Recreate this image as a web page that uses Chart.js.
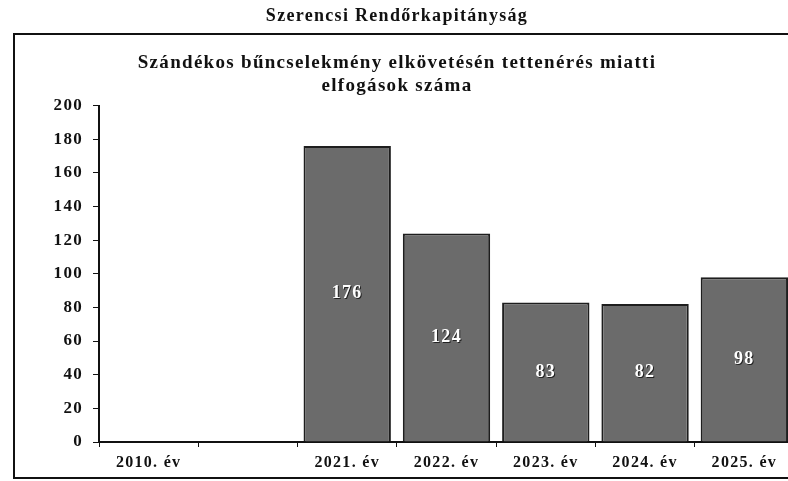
<!DOCTYPE html>
<html>
<head>
    <title>Szerencsi Rendőrkapitányság</title>
    <style>
        body { margin: 0; background: #fff; overflow: hidden; }
        canvas { display: block; }
    </style>
    <script src="https://cdn.jsdelivr.net/npm/chart.js"></script>
</head>
<body>
<canvas id="arrestChart" width="800" height="481"></canvas>
<script>
const categories = ['2010. év', '', '2021. év', '2022. év', '2023. év', '2024. év', '2025. év'];
const arrests = [0, null, 176, 124, 83, 82, 98];
const yTicks = { min: 0, max: 200, step: 20 };
const mainTitle = 'Szerencsi Rendőrkapitányság';
const chartTitle = ['Szándékos bűncselekmény elkövetésén tettenérés miatti', 'elfogások száma'];

const serif = '"Liberation Serif", "Times New Roman", serif';
const spacing = '1.3px';

// frame around the chart; the scan has wide letter spacing, so set it on the context
const framePlugin = {
    id: 'frame',
    beforeUpdate(chart) {
        chart.ctx.letterSpacing = spacing;
    },
    beforeDraw(chart) {
        const ctx = chart.ctx;
        ctx.letterSpacing = spacing;
        ctx.save();
        ctx.fillStyle = '#fff';
        ctx.fillRect(0, 0, chart.width, chart.height);
        ctx.strokeStyle = '#111';
        ctx.lineWidth = 2;
        ctx.beginPath();
        ctx.moveTo(chart.width, 34);
        ctx.lineTo(14, 34);
        ctx.lineTo(14, 478);
        ctx.lineTo(chart.width, 478);
        ctx.stroke();
        ctx.restore();
    }
};

// white value labels in the middle of each bar
const valueLabels = {
    id: 'valueLabels',
    afterDatasetsDraw(chart) {
        const ctx = chart.ctx;
        const meta = chart.getDatasetMeta(0);
        ctx.save();
        ctx.font = 'bold 18px ' + serif;
        ctx.textAlign = 'center';
        ctx.textBaseline = 'middle';
        meta.data.forEach((bar, i) => {
            const v = arrests[i];
            if (!v) return;
            const y = (bar.y + bar.base) / 2;
            ctx.fillStyle = '#222';
            ctx.fillText(String(v), bar.x + 1, y + 1);
            ctx.fillStyle = '#fff';
            ctx.fillText(String(v), bar.x, y);
        });
        ctx.restore();
    }
};

const ctx = document.getElementById('arrestChart').getContext('2d');
new Chart(ctx, {
    type: 'bar',
    data: {
        labels: categories,
        datasets: [{
            data: arrests,
            backgroundColor: '#6b6b6b',
            borderColor: '#1e1e1e',
            borderWidth: 2,
            borderSkipped: 'bottom',
            barPercentage: 0.88,
            categoryPercentage: 1.0
        }]
    },
    options: {
        responsive: false,
        animation: false,
        layout: { padding: { top: 0, right: 6, bottom: 0, left: 0 } },
        plugins: {
            legend: { display: false },
            tooltip: { enabled: false },
            title: {
                display: true,
                text: mainTitle,
                color: '#111',
                font: { family: serif, size: 18, weight: 'bold', lineHeight: 1.2 },
                padding: { top: 6, bottom: 14 }
            },
            subtitle: {
                display: true,
                text: chartTitle,
                color: '#111',
                font: { family: serif, size: 19, weight: 'bold', lineHeight: '23px' },
                padding: { top: 10, bottom: 8 }
            }
        },
        scales: {
            x: {
                afterFit(scale) { scale.height = 39; },
                grid: { display: true, drawOnChartArea: false, drawTicks: true, tickLength: 5, color: '#111', lineWidth: 1 },
                border: { display: true, color: '#111', width: 2 },
                ticks: { color: '#111', padding: 6, font: { family: serif, size: 16, weight: 'bold' }, maxRotation: 0, autoSkip: false }
            },
            y: {
                min: yTicks.min,
                max: yTicks.max,
                afterFit(scale) { scale.width = 99; },
                grid: { display: true, drawOnChartArea: false, drawTicks: true, tickLength: 6, color: '#111', lineWidth: 1 },
                border: { display: true, color: '#111', width: 2 },
                ticks: { stepSize: yTicks.step, color: '#111', padding: 10, font: { family: serif, size: 17, weight: 'bold' } }
            }
        }
    },
    plugins: [framePlugin, valueLabels]
});
</script>
</body>
</html>
